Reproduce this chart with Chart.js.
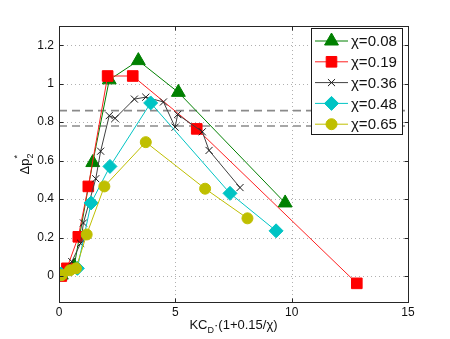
<!DOCTYPE html>
<html>
<head>
<meta charset="utf-8">
<script src="https://cdn.jsdelivr.net/npm/chart.js@4/dist/chart.umd.min.js"></script>
<style>
  body { margin: 0; background: #fff; }
  #wrap { width: 450px; height: 339px; }
</style>
</head>
<body>
<div id="wrap"><canvas id="kcChart" width="450" height="339"></canvas></div>
<script>
// series labels
const chiLabels = ['χ=0.08', 'χ=0.19', 'χ=0.36', 'χ=0.48', 'χ=0.65'];

// x = KC_D(1+0.15/chi), y = dp2*
const chi008X = [0.1, 0.65, 1.45, 2.16, 3.41, 5.13, 9.72];
const chi008Y = [0.005, 0.05, 0.59, 1.02, 1.12, 0.955, 0.38];

const chi019X = [0.1, 0.34, 0.83, 1.26, 2.09, 3.17, 5.92, 12.8];
const chi019Y = [0.0, 0.04, 0.204, 0.466, 1.04, 1.04, 0.765, -0.038];

const chi036X = [0.1, 0.55, 0.93, 1.05, 1.58, 1.79, 2.16, 2.41, 3.24, 3.73, 4.49, 4.99, 5.1, 6.16, 6.45, 7.78];
const chi036Y = [0.0, 0.075, 0.17, 0.276, 0.506, 0.649, 0.834, 0.82, 0.92, 0.93, 0.905, 0.774, 0.84, 0.75, 0.653, 0.46];

const chi048X = [0.09, 0.79, 1.38, 2.19, 3.94, 7.35, 9.33];
const chi048Y = [0.01, 0.04, 0.38, 0.57, 0.90, 0.43, 0.235];

const chi065X = [0.12, 0.47, 0.73, 1.19, 1.95, 3.73, 6.28, 8.1];
const chi065Y = [0.005, 0.03, 0.04, 0.216, 0.466, 0.696, 0.454, 0.30];

// horizontal dashed reference levels
const dashedLevels = [0.86, 0.78];

const xTicks = [0, 5, 10, 15];
const yTicks = [0, 0.2, 0.4, 0.6, 0.8, 1, 1.2];
const xRange = [0, 15];
const yRange = [-0.135, 1.3];

function pts(xs, ys) {
  return xs.map((x, i) => ({ x: x, y: ys[i] }));
}

const FONT = '"Liberation Sans", Arial, Helvetica, sans-serif';

const styles = [
  { color: '#008000', line: '#008000', pointStyle: 'triangle', radius: 8 },
  { color: '#ff0000', line: '#ff2020', pointStyle: 'rect', radius: 7.5 },
  { color: '#1a1a1a', line: '#404040', pointStyle: 'crossRot', radius: 5 },
  { color: '#00c4c4', line: '#00c4c4', pointStyle: 'rectRot', radius: 7 },
  { color: '#bfbf00', line: '#bfbf00', pointStyle: 'circle', radius: 5.5 },
];

const seriesData = [
  pts(chi008X, chi008Y),
  pts(chi019X, chi019Y),
  pts(chi036X, chi036Y),
  pts(chi048X, chi048Y),
  pts(chi065X, chi065Y),
];

const datasets = [];
dashedLevels.forEach((lvl) => {
  datasets.push({
    label: '',
    data: [{ x: xRange[0], y: lvl }, { x: xRange[1], y: lvl }],
    borderColor: '#8a8a8a',
    borderWidth: 1.6,
    borderDash: [8, 5],
    pointRadius: 0,
    showLine: true,
    order: 10,
  });
});
seriesData.forEach((d, i) => {
  const s = styles[i];
  datasets.push({
    label: chiLabels[i],
    data: d,
    showLine: true,
    tension: 0,
    borderColor: s.line,
    borderWidth: 1,
    pointStyle: s.pointStyle,
    pointRadius: s.radius,
    pointBackgroundColor: s.color,
    pointBorderColor: s.color,
    pointBorderWidth: 1,
    // later series on top like matlab
    order: 5 - i,
  });
});

// grid, box and inward ticks, matlab style
const framePlugin = {
  id: 'frame',
  beforeDatasetsDraw(chart) {
    const { ctx, chartArea: a, scales } = chart;
    ctx.save();
    ctx.strokeStyle = '#b0b0b0';
    ctx.lineWidth = 1;
    ctx.setLineDash([1, 3]);
    xTicks.forEach((v) => {
      const px = Math.round(scales.x.getPixelForValue(v)) + 0.5;
      ctx.beginPath(); ctx.moveTo(px, a.top); ctx.lineTo(px, a.bottom); ctx.stroke();
    });
    yTicks.forEach((v) => {
      const py = Math.round(scales.y.getPixelForValue(v)) + 0.5;
      ctx.beginPath(); ctx.moveTo(a.left, py); ctx.lineTo(a.right, py); ctx.stroke();
    });
    ctx.restore();
  },
  afterDatasetsDraw(chart) {
    const { ctx, chartArea: a, scales } = chart;
    ctx.save();
    ctx.strokeStyle = '#262626';
    ctx.lineWidth = 1;
    ctx.setLineDash([]);
    const L = Math.round(a.left) + 0.5, R = Math.round(a.right) + 0.5;
    const T = Math.round(a.top) + 0.5, B = Math.round(a.bottom) + 0.5;
    ctx.strokeRect(L, T, R - L, B - T);
    const tl = 4;
    ctx.beginPath();
    xTicks.forEach((v) => {
      const px = Math.round(scales.x.getPixelForValue(v)) + 0.5;
      ctx.moveTo(px, B); ctx.lineTo(px, B - tl);
      ctx.moveTo(px, T); ctx.lineTo(px, T + tl);
    });
    yTicks.forEach((v) => {
      const py = Math.round(scales.y.getPixelForValue(v)) + 0.5;
      ctx.moveTo(L, py); ctx.lineTo(L + tl, py);
      ctx.moveTo(R, py); ctx.lineTo(R - tl, py);
    });
    ctx.stroke();
    ctx.restore();
  },
};

// axis titles with sub/superscripts
const titlesPlugin = {
  id: 'titles',
  afterDraw(chart) {
    const { ctx, chartArea: a } = chart;
    ctx.save();
    ctx.fillStyle = '#111';
    ctx.textBaseline = 'alphabetic';
    // x title: KC_D·(1+0.15/χ)
    const big = '13px ' + FONT, small = '9px ' + FONT;
    ctx.font = big;
    const w1 = ctx.measureText('KC').width;
    const w3 = ctx.measureText('·(1+0.15/χ)').width;
    ctx.font = small;
    const w2 = ctx.measureText('D').width;
    let x = (a.left + a.right) / 2 - (w1 + w2 + w3) / 2;
    const by = 329;
    ctx.font = big; ctx.fillText('KC', x, by); x += w1;
    ctx.font = small; ctx.fillText('D', x, by + 4); x += w2;
    ctx.font = big; ctx.fillText('·(1+0.15/χ)', x, by);

    // y title: Δp_2^*
    ctx.translate(29, (a.top + a.bottom) / 2);
    ctx.rotate(-Math.PI / 2);
    ctx.font = big;
    const v1 = ctx.measureText('Δp').width;
    ctx.font = small;
    const v2 = ctx.measureText('2').width;
    let y = -(v1 + v2) / 2;
    ctx.font = big; ctx.fillText('Δp', y, 0); y += v1;
    ctx.font = small; ctx.fillText('2', y, 4);
    ctx.fillText('*', y, -9);
    ctx.restore();
  },
};

// matlab-like legend: line sample with marker
const legendPlugin = {
  id: 'mLegend',
  afterDraw(chart) {
    const { ctx } = chart;
    const bx = 311.5, byTop = 28.5, bw = 91, bh = 106;
    ctx.save();
    ctx.fillStyle = '#fff';
    ctx.fillRect(bx, byTop, bw, bh);
    ctx.strokeStyle = '#1a1a1a';
    ctx.lineWidth = 1;
    ctx.strokeRect(bx, byTop, bw, bh);
    chiLabels.forEach((lab, i) => {
      const s = styles[i];
      const cy = 41 + i * 20.8;
      ctx.strokeStyle = s.line;
      ctx.lineWidth = 1;
      ctx.beginPath(); ctx.moveTo(315, cy); ctx.lineTo(348, cy); ctx.stroke();
      ctx.fillStyle = s.color;
      ctx.strokeStyle = s.color;
      Chart.helpers.drawPoint(ctx, { pointStyle: s.pointStyle, radius: s.radius, rotation: 0, borderWidth: 1 }, 331.5, cy);
      ctx.fillStyle = '#111';
      ctx.font = '15px ' + FONT;
      ctx.textBaseline = 'middle';
      ctx.textAlign = 'left';
      ctx.fillText(lab, 351, cy + 1);
    });
    ctx.restore();
  },
};

const fmt = (v) => String(+Number(v).toFixed(2));

new Chart(document.getElementById('kcChart'), {
  type: 'scatter',
  data: { datasets: datasets },
  options: {
    responsive: false,
    animation: false,
    devicePixelRatio: 1,
    layout: { padding: { top: 26, right: 42, left: 0, bottom: 0 } },
    plugins: {
      legend: { display: false },
      tooltip: { enabled: false },
    },
    scales: {
      x: {
        type: 'linear',
        min: xRange[0],
        max: xRange[1],
        grid: { display: false, drawTicks: false },
        border: { display: false },
        afterBuildTicks: (s) => { s.ticks = xTicks.map((v) => ({ value: v })); },
        afterFit: (s) => { s.height = 37; },
        ticks: { padding: 3, color: '#111', font: { family: FONT, size: 12 }, callback: fmt, maxRotation: 0 },
      },
      y: {
        type: 'linear',
        min: yRange[0],
        max: yRange[1],
        grid: { display: false, drawTicks: false },
        border: { display: false },
        afterBuildTicks: (s) => { s.ticks = yTicks.map((v) => ({ value: v })); },
        afterFit: (s) => { s.width = 59; },
        ticks: { padding: 5, color: '#111', font: { family: FONT, size: 12 }, callback: fmt },
      },
    },
  },
  plugins: [framePlugin, titlesPlugin, legendPlugin],
});
</script>
</body>
</html>
